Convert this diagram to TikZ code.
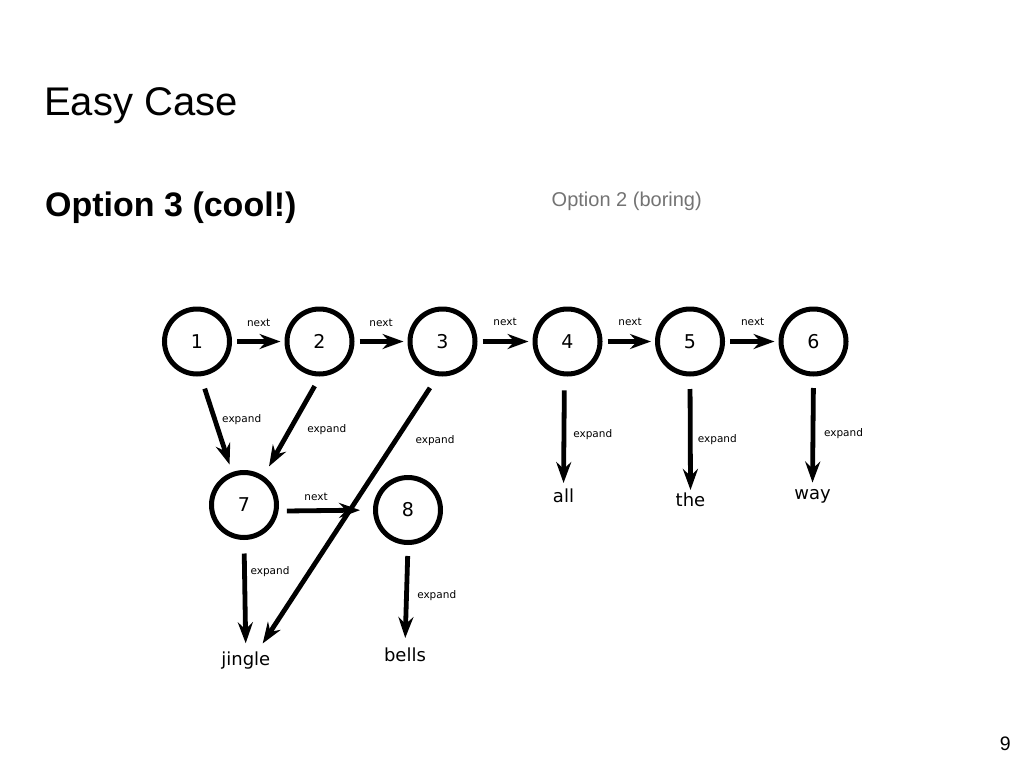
\documentclass[tikz,border=0pt]{standalone}
\usepackage{fontspec}
\setmainfont{Liberation Sans}
\newfontfamily\graphfont{DejaVu Sans}
\usetikzlibrary{arrows.meta}
\definecolor{dimgray}{gray}{0.45}

\tikzset{
  state/.style={circle, draw, line width=5pt, minimum size=65pt, inner sep=0pt, font=\graphfont\fontsize{19}{19}\selectfont},
  word/.style={anchor=base, inner sep=2pt, text height=13.5pt, text depth=4pt, font=\graphfont\fontsize{18}{18}\selectfont},
  lbl/.style={inner sep=0pt, font=\graphfont\fontsize{10.5}{10.5}\selectfont},
  link/.style={line width=4.8pt, -{Stealth[length=21pt, width=15pt, inset=7pt]}},
  nextlink/.style={link, shorten <=5pt, shorten >=4pt},
}

\begin{document}
\begin{tikzpicture}[x=1pt, y=-1pt]
                \useasboundingbox (0,0) rectangle (1024,768);
                \node[anchor=base west, inner sep=0pt, font=\fontsize{40}{40}\selectfont] (title) at (44,115) {Easy Case};
                \node[anchor=base west, inner sep=0pt, font=\bfseries\fontsize{34}{34}\selectfont] (opt3) at (45,216) {Option 3 (cool!)};
                \node[anchor=base west, inner sep=0pt, text=dimgray, font=\fontsize{20}{20}\selectfont] (opt2) at (551.5,206.5) {Option 2 (boring)};
                \node[anchor=base east, inner sep=0pt, font=\fontsize{19.5}{19.5}\selectfont] (page) at (1011,750.5) {9};
                % list nodes
                \node[state] (n1) at (197,341.5) {1};
                \node[state] (n2) at (319.5,341.5) {2};
                \node[state] (n3) at (442.5,341.5) {3};
                \node[state] (n4) at (567.5,341.5) {4};
                \node[state] (n5) at (690,341.5) {5};
                \node[state] (n6) at (813.5,341.5) {6};
                \node[state] (n7) at (244,505) {7};
                \node[state] (n8) at (408,510) {8};
                % words
                \node[word] (jingle) at (245.8,665) {jingle};
                \node[word] (bells) at (405,661.7) {bells};
                \node[word] (all) at (563.5,502.7) {all};
                \node[word] (the) at (690.5,506.7) {the};
                \node[word] (way) at (812.5,499.3) {way};
                % next
                \draw[nextlink] (n1) -- (n2);
                \draw[nextlink] (n2) -- (n3);
                \draw[nextlink] (n3) -- (n4);
                \draw[nextlink] (n4) -- (n5);
                \draw[nextlink] (n5) -- (n6);
                \draw[link, shorten <=8.5pt, shorten >=13pt] (n7.-10) -- (n8.west);
                \node[lbl] (nx12) at (258.7,322.7) {next};
                \node[lbl] (nx23) at (381,322.7) {next};
                \node[lbl] (nx34) at (505,322.3) {next};
                \node[lbl] (nx45) at (630,322.3) {next};
                \node[lbl] (nx56) at (752.7,322.3) {next};
                \node[lbl] (nx78) at (316,496.7) {next};
                % expand
                \draw[link, shorten <=13pt, shorten >=8pt] (n1.-84) -- (n7.110);
                \draw[link, shorten <=11pt, shorten >=11pt] (n2.-89) -- (n7.56);
                \draw[link, shorten <=14pt, shorten >=7pt] (n3.-98) -- (jingle.40);
                \draw[link, shorten <=14pt, shorten >=4pt] (n4.-95) -- (all.north);
                \draw[link, shorten <=12.5pt, shorten >=1pt] (n5.south) -- (the.north);
                \draw[link, shorten <=11.5pt, shorten >=1pt] (n6.south) -- (way.north);
                \draw[link, shorten <=13.5pt, shorten >=6pt] (n7.south) -- (jingle.north);
                \draw[link, shorten <=11pt, shorten >=8pt] (n8.south) -- (bells.north);
                \node[lbl] (ex17) at (241.7,420) {expand};
                \node[lbl] (ex27) at (326.7,430) {expand};
                \node[lbl] (ex3) at (435,440.7) {expand};
                \node[lbl] (ex4) at (592.7,435) {expand};
                \node[lbl] (ex5) at (717.3,440) {expand};
                \node[lbl] (ex6) at (843.5,434) {expand};
                \node[lbl] (ex7) at (270,572) {expand};
                \node[lbl] (ex8) at (436.7,595.7) {expand};
\end{tikzpicture}
\end{document}
